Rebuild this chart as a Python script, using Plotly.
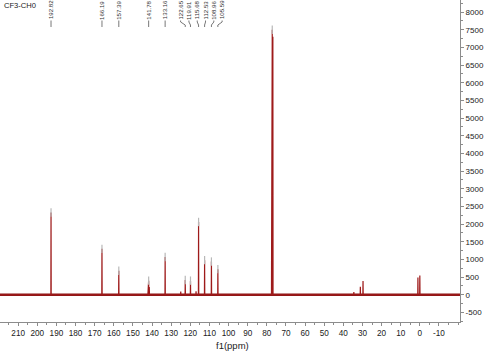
import plotly.graph_objects as go

# ---------------- data ----------------
title_text = "CF3-CH0"
x_title = "f1(ppm)"

# peak positions (ppm) and intensities
peak_ppm = [192.82, 166.19, 157.39, 142.10, 141.78, 141.45, 133.16, 125.0,
            122.65, 119.91, 117.0, 115.68, 112.53, 108.96, 105.59,
            77.48, 77.16, 76.84, 34.5, 31.1, 29.7, 1.0, 0.0]
peak_height = [2330, 1300, 680, 180, 400, 220, 1070, 90,
               420, 400, 100, 2060, 980, 940, 725,
               7300, 7500, 7300, 80, 230, 390, 490, 545]

# picked-peak labels shown at top
label_values = [192.82, 166.19, 157.39, 141.78, 133.16, 122.65, 119.91,
                115.68, 112.53, 108.96, 105.59]
label_heights = [2330, 1300, 680, 400, 1070, 420, 400, 2060, 980, 940, 725]

x_tick_vals = list(range(210, -11, -10))
y_tick_vals = list(range(-500, 8001, 500))

# ---------------- layout constants ----------------
X_RANGE = [219.5, -21.0]
Y_RANGE = [-770, 8340]
FONT = "Liberation Sans, Arial, sans-serif"
RED = "#9e1a1a"

# build spectrum polyline from the peak list
order = sorted(range(len(peak_ppm)), key=lambda i: -peak_ppm[i])
hw = 0.09
xs = [X_RANGE[0]]
ys = [0]
for i in order:
    p, h = peak_ppm[i], peak_height[i]
    xs += [p + hw, p, p - hw]
    ys += [0, h, 0]
xs.append(X_RANGE[1])
ys.append(0)

fig = go.Figure()
# thick noisy-looking baseline band
fig.add_trace(go.Scatter(x=[X_RANGE[0], X_RANGE[1]], y=[0, 0], mode="lines",
                         line=dict(color="#8a1414", width=2.6),
                         hoverinfo="skip", showlegend=False))
fig.add_trace(go.Scatter(x=xs, y=ys, mode="lines",
                         line=dict(color=RED, width=1.2),
                         hoverinfo="skip", showlegend=False))
# gray peak-pick markers at peak tops
fig.add_trace(go.Scatter(x=label_values + [77.16], y=label_heights + [7500],
                         mode="markers",
                         marker=dict(symbol="line-ns-open", size=6,
                                     color="#b8b8b8",
                                     line=dict(color="#b8b8b8", width=1.2)),
                         hoverinfo="skip", showlegend=False))

# ---- label placement (spread overlapping labels evenly) ----
PLOT_W = 460.0
ppm_per_px = (X_RANGE[0] - X_RANGE[1]) / PLOT_W
min_gap = 8.3 * ppm_per_px
groups = []
for v in sorted(label_values, reverse=True):
    if groups and groups[-1][-1] - v < min_gap:
        groups[-1].append(v)
    else:
        groups.append([v])
label_pos = {}
for g in groups:
    c = sum(g) / len(g)
    n = len(g)
    for k, v in enumerate(g):
        label_pos[v] = c + ((n - 1) / 2 - k) * min_gap

PLOT_H = 322.0
def py(px):
    return 1 - px / PLOT_H

annotations = []
shapes = []
for v in label_values:
    lx = label_pos[v]
    annotations.append(dict(x=lx, y=py(20.5), xref="x", yref="paper",
                            text=f"{v:.2f}", textangle=-90, showarrow=False,
                            xanchor="center", yanchor="bottom",
                            borderpad=0,
                            font=dict(family=FONT, size=6.1, color="#333333")))
    pts = [(lx, 20.5), (lx, 22.0), (v, 25.0), (v, 27.0)]
    for (x0, y0), (x1, y1) in zip(pts[:-1], pts[1:]):
        shapes.append(dict(type="line", xref="x", yref="paper",
                           x0=x0, y0=py(y0), x1=x1, y1=py(y1),
                           line=dict(color="#555555", width=0.8)))

annotations.append(dict(x=0.004, y=py(5.5), xref="paper", yref="paper",
                        text=title_text, showarrow=False, xanchor="left",
                        yanchor="middle",
                        font=dict(family=FONT, size=7.6, color="#222222")))
annotations.append(dict(x=98, y=py(345), xref="x",
                        yref="paper", text=x_title, showarrow=False,
                        xanchor="center", yanchor="middle",
                        font=dict(family=FONT, size=9.5, color="#222222")))

fig.update_layout(
    width=492, height=354,
    margin=dict(l=0, r=32, t=0, b=32),
    paper_bgcolor="white", plot_bgcolor="white",
    font=dict(family=FONT, size=8, color="#222222"),
    annotations=annotations, shapes=shapes,
    showlegend=False,
)
fig.update_xaxes(range=X_RANGE, tickvals=x_tick_vals,
                 ticktext=[str(v) for v in x_tick_vals],
                 showgrid=False, zeroline=False, showline=True,
                 linecolor="#8c8c8c", linewidth=1,
                 ticks="outside", ticklen=3, tickcolor="#8c8c8c",
                 tickfont=dict(family=FONT, size=8.2, color="#222222"),
                 minor=dict(dtick=5, tick0=0, ticks="outside", ticklen=2,
                            tickcolor="#8c8c8c"))
fig.update_yaxes(range=Y_RANGE, side="right", tickvals=y_tick_vals,
                 ticktext=[str(v) for v in y_tick_vals],
                 showgrid=False, zeroline=False, showline=True,
                 linecolor="#8c8c8c", linewidth=1,
                 ticks="outside", ticklen=3, tickcolor="#8c8c8c",
                 tickfont=dict(family=FONT, size=8, color="#222222"),
                 minor=dict(dtick=250, tick0=0, ticks="outside", ticklen=2,
                            tickcolor="#8c8c8c"))

fig.write_html("out.html", config={"displayModeBar": False},
               post_script="document.body.style.margin='0';"
                           "document.body.style.overflow='hidden';")
